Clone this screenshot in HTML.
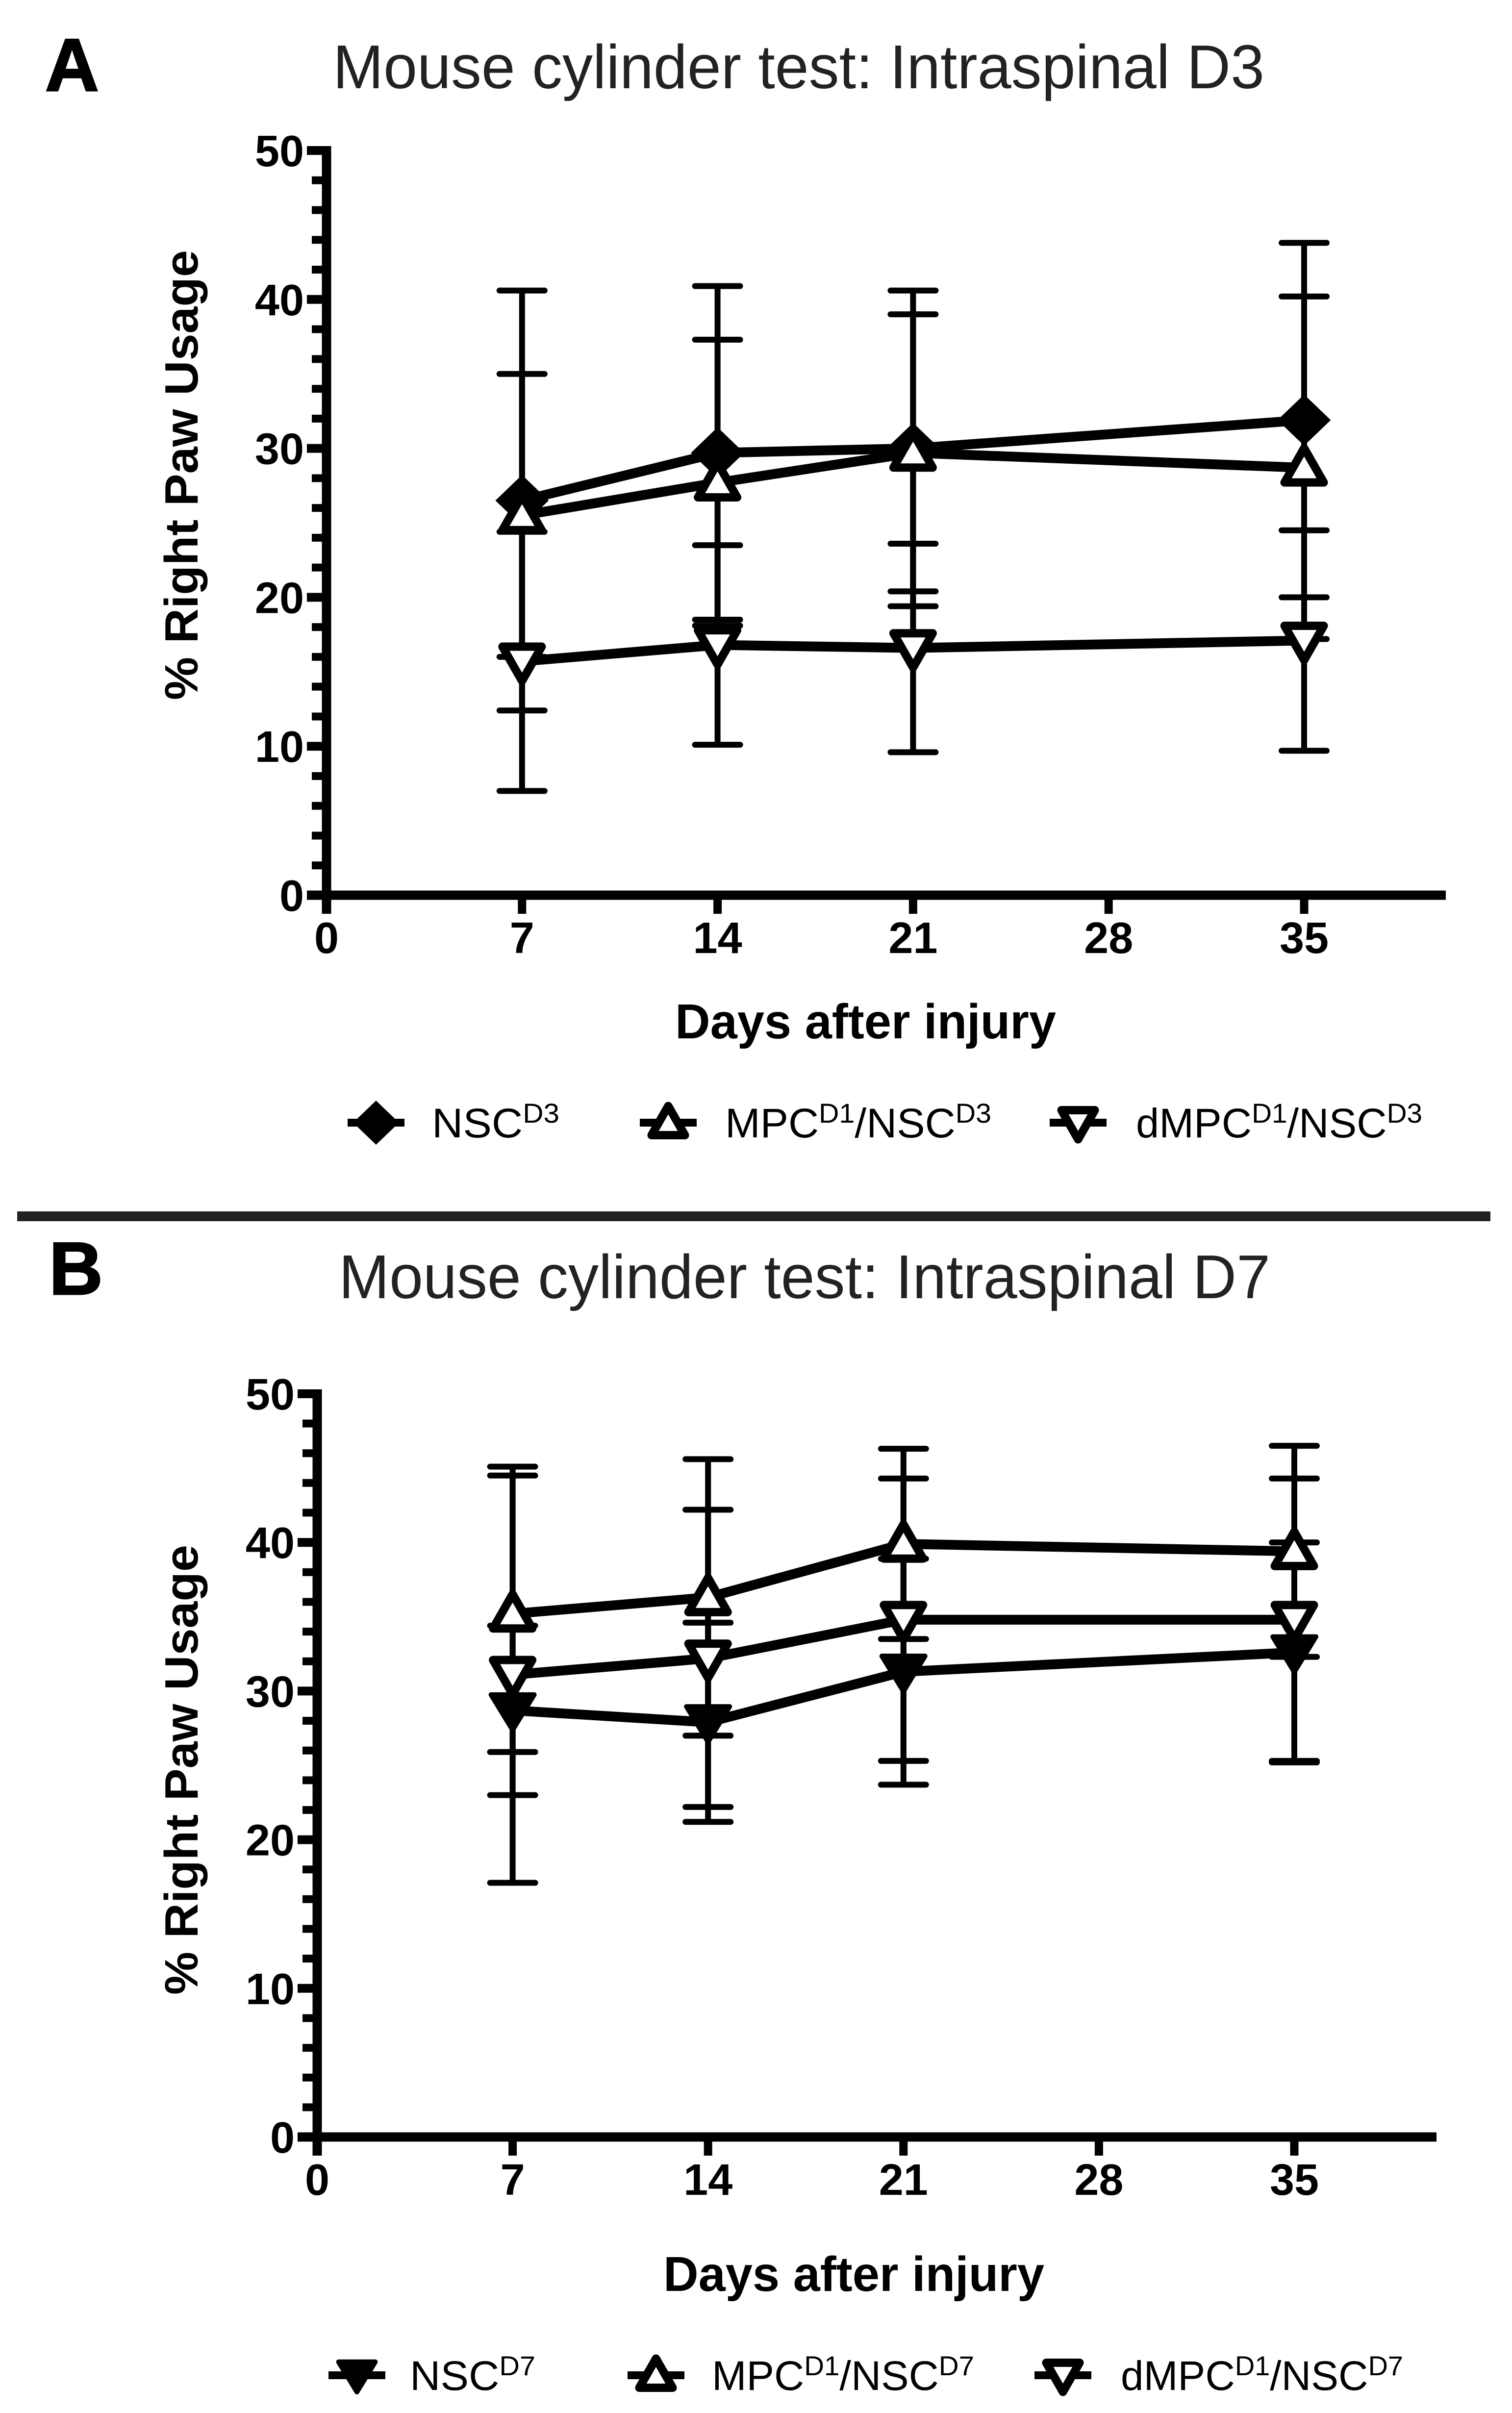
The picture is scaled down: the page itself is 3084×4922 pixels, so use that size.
<!DOCTYPE html>
<html><head><meta charset="utf-8"><style>
html,body{margin:0;padding:0;background:#fff;}
svg{display:block;}
text{font-family:"Liberation Sans",Arial,sans-serif;fill:#000;}
</style></head>
<body>
<svg id="fig" width="3084" height="4922" viewBox="0 0 3084 4922" xmlns="http://www.w3.org/2000/svg">
<rect width="3084" height="4922" fill="#fff"/>
<text x="92" y="185" font-size="152" font-weight="bold" stroke="#000" stroke-width="3">A</text>
<text x="679" y="180" font-size="126" style="fill:#222" textLength="1900" lengthAdjust="spacingAndGlyphs">Mouse cylinder test: Intraspinal D3</text>
<line x1="35" y1="2481" x2="3040" y2="2481" stroke="#222" stroke-width="20"/>
<text x="100" y="2640" font-size="152" font-weight="bold" stroke="#000" stroke-width="3">B</text>
<text x="691" y="2648" font-size="126" style="fill:#222" textLength="1900" lengthAdjust="spacingAndGlyphs">Mouse cylinder test: Intraspinal D7</text>
<g id="chartA"></g>
<g id="chartB"></g>
</svg>
<script>
const days = [7, 14, 21, 35];
const xTicks = [0, 7, 14, 21, 28, 35];
const yTicks = [0, 10, 20, 30, 40, 50];
// Panel A
const aNSC = [26.5, 29.7, 30.0, 31.9];
const aNSCerr = [14.1, 11.2, 10.6, 11.9];
const aMPC = [25.5, 27.7, 29.7, 28.7];
const aMPCerr = [9.5, 9.6, 9.3, 11.5];
const aDMPC = [15.7, 16.8, 16.6, 17.1];
const aDMPCerr = [8.7, 6.7, 7.0, 7.4];
// Panel B
const bNSC = [28.7, 27.9, 31.3, 32.6];
const bNSCerr = [5.7, 6.7, 7.6, 7.4];
const bMPC = [35.2, 36.3, 39.9, 39.4];
const bMPCerr = [9.3, 9.3, 6.4, 7.1];
const bDMPC = [31.1, 32.2, 34.8, 34.8];
const bDMPCerr = [14.0, 10.0, 9.5, 9.5];

const NS = "http://www.w3.org/2000/svg";
function mk(tag, attrs, parent){const e=document.createElementNS(NS,tag);for(const k in attrs)e.setAttribute(k,attrs[k]);parent.appendChild(e);return e;}

function marker(g, type, cx, cy, s){
  let e;
  if(type==='diamond'){
    e=mk('polygon',{points:`${cx},${cy-48*s} ${cx+50*s},${cy} ${cx},${cy+48*s} ${cx-50*s},${cy}`,fill:'#000',stroke:'#000','stroke-width':6},g);
  } else if(type==='up'){
    e=mk('polygon',{points:`${cx},${cy-40*s} ${cx+40*s},${cy+30*s} ${cx-40*s},${cy+30*s}`,fill:'#fff',stroke:'#000','stroke-width':17,'stroke-linejoin':'round'},g);
  } else if(type==='down'){
    e=mk('polygon',{points:`${cx},${cy+40*s} ${cx+40*s},${cy-30*s} ${cx-40*s},${cy-30*s}`,fill:'#fff',stroke:'#000','stroke-width':17,'stroke-linejoin':'round'},g);
  } else {
    e=mk('polygon',{points:`${cx},${cy+40*s} ${cx+44*s},${cy-32*s} ${cx-44*s},${cy-32*s}`,fill:'#000',stroke:'#000','stroke-width':10,'stroke-linejoin':'round'},g);
  }
  return e;
}

function drawChart(g, cfg){
  const X = d => cfg.x0 + (d/35)*(cfg.x35-cfg.x0);
  const Y = v => cfg.y0 - (v/50)*(cfg.y0-cfg.y50);
  const ya=mk('line',{x1:X(0),y1:cfg.y50-9,x2:X(0),y2:cfg.y0+38,stroke:'#000','stroke-width':19},g);
  
  
  const xa=mk('line',{x1:X(0)-40,y1:cfg.y0,x2:cfg.xEnd,y2:cfg.y0,stroke:'#000','stroke-width':19},g);
  
  
  for(let v=0; v<=50; v+=2){
    const major = v%10===0;
    const t=mk('line',{x1:X(0)-(major?40:30),y1:Y(v),x2:X(0),y2:Y(v),stroke:'#000','stroke-width':major?18:16},g);
    
    
  }
  yTicks.forEach(v=>{
    const t=mk('text',{x:X(0)-46,y:Y(v)+32,'font-size':90,'font-weight':'bold','text-anchor':'end'},g);
    t.textContent=v;
    
    
  });
  xTicks.forEach(d=>{
    const t=mk('line',{x1:X(d),y1:cfg.y0,x2:X(d),y2:cfg.y0+38,stroke:'#000','stroke-width':17},g);
    
    
    const l=mk('text',{x:X(d),y:cfg.y0+118,'font-size':90,'font-weight':'bold','text-anchor':'middle'},g);
    l.textContent=d;
    
    
  });
  const yt=mk('text',{x:0,y:0,'font-size':96,'font-weight':'bold','text-anchor':'middle',transform:`translate(403,${cfg.yTitleY}) rotate(-90)`,textLength:918,lengthAdjust:'spacingAndGlyphs'},g);
  yt.textContent='% Right Paw Usage';
  
  
  const xt=mk('text',{x:cfg.xTitleX,y:cfg.xTitleY,'font-size':100,'font-weight':'bold',textLength:777,lengthAdjust:'spacingAndGlyphs'},g);
  xt.textContent='Days after injury';
  
  
  cfg.series.forEach(s=>{
    const sg=mk('g',{},g);
    
    
    s.vals.forEach((v,i)=>{
      const x=X(days[i]), hi=Y(v+s.err[i]), lo=Y(v-s.err[i]);
      const eb=mk('path',{d:`M${x},${hi}V${lo}M${x-46},${hi}H${x+46}M${x-46},${lo}H${x+46}`,stroke:'#000','stroke-width':12,fill:'none','stroke-linecap':'round'},sg);
      
      
    });
  });
  cfg.series.forEach(s=>{
    const pts=s.vals.map((v,i)=>`${X(days[i])},${Y(v)}`).join(' ');
    const pl=mk('polyline',{points:pts,fill:'none',stroke:'#000','stroke-width':20,'stroke-linejoin':'round'},g);
    
    
  });
  cfg.series.forEach(s=>{
    s.vals.forEach((v,i)=>{
      const m=marker(g,s.type,X(days[i]),Y(v),1);
      
      
    });
  });
  cfg.legend.forEach(L=>{
    const lg=mk('g',{},g);
    
    
    mk('line',{x1:L.mx-58,y1:cfg.legY,x2:L.mx+58,y2:cfg.legY,stroke:'#000','stroke-width':16},lg);
    marker(lg,L.type,L.mx,cfg.legY,0.85);
    const t=mk('text',{x:L.tx,y:cfg.legY+30,'font-size':84,textLength:L.tw,lengthAdjust:'spacingAndGlyphs'},lg);
    t.innerHTML=L.html;
  });
}

drawChart(document.getElementById('chartA'),{
  x0:666,x35:2660,xEnd:2949,y0:1826,y50:307,yTitleY:969,xTitleX:1377,xTitleY:2118,legY:2290,
  series:[
    {key:'nsc-d3',type:'diamond',vals:aNSC,err:aNSCerr},
    {key:'mpc-nsc-d3',type:'up',vals:aMPC,err:aMPCerr},
    {key:'dmpc-nsc-d3',type:'down',vals:aDMPC,err:aDMPCerr}
  ],
  legend:[
    {type:'diamond',mx:767,tx:881,tw:260,html:'NSC<tspan font-size="56" dy="-30">D3</tspan>'},
    {type:'up',mx:1363,tx:1479,tw:543,html:'MPC<tspan font-size="56" dy="-30">D1</tspan><tspan dy="30">/NSC</tspan><tspan font-size="56" dy="-30">D3</tspan>'},
    {type:'down',mx:2199,tx:2317,tw:584,html:'dMPC<tspan font-size="56" dy="-30">D1</tspan><tspan dy="30">/NSC</tspan><tspan font-size="56" dy="-30">D3</tspan>'}
  ]
});
drawChart(document.getElementById('chartB'),{
  x0:647,x35:2640,xEnd:2930,y0:4359,y50:2843,yTitleY:3610,xTitleX:1353,xTitleY:4673,legY:4845,
  series:[
    {key:'nsc-d7',type:'filled-down',vals:bNSC,err:bNSCerr},
    {key:'mpc-nsc-d7',type:'up',vals:bMPC,err:bMPCerr},
    {key:'dmpc-nsc-d7',type:'down',vals:bDMPC,err:bDMPCerr}
  ],
  legend:[
    {type:'filled-down',mx:728,tx:836,tw:256,html:'NSC<tspan font-size="56" dy="-30">D7</tspan>'},
    {type:'up',mx:1338,tx:1452,tw:535,html:'MPC<tspan font-size="56" dy="-30">D1</tspan><tspan dy="30">/NSC</tspan><tspan font-size="56" dy="-30">D7</tspan>'},
    {type:'down',mx:2168,tx:2286,tw:576,html:'dMPC<tspan font-size="56" dy="-30">D1</tspan><tspan dy="30">/NSC</tspan><tspan font-size="56" dy="-30">D7</tspan>'}
  ]
});
</script>
</body></html>
